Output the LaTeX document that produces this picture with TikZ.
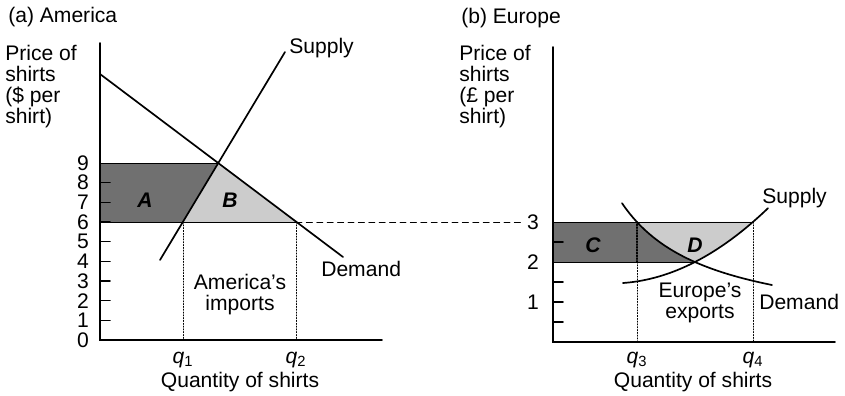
\documentclass[tikz,border=0pt]{standalone}
\usepackage{fontspec}
\setmainfont{Liberation Sans}
\usetikzlibrary{calc}

\begin{document}
\begin{tikzpicture}[x=0.25mm,y=0.25mm,line cap=round,
	declare function={eudem(\x)=62+11425/(\x-534);
		eusup(\x)=112+0.0713*(\x-623)+0.003061*(\x-623)*(\x-623);},
	axis/.style={line width=1.1pt},
	curve/.style={line width=1.2pt},
	edge/.style={line width=0.6pt},
	guide/.style={line width=0.6pt,dash pattern=on 0.8pt off 1.2pt},
	darkfill/.style={fill=black!56},
	lightfill/.style={fill=black!20},
	lbl/.style={font=\fontsize{15}{15}\selectfont,inner sep=0pt},
	area/.style={font=\fontsize{15}{15}\selectfont\bfseries\itshape,inner sep=0pt}
	]
	\useasboundingbox (0,0) rectangle (845,395);

	% (a) America
	\coordinate (oA) at (100,55);
	\coordinate (dA0) at (100,321);
	\coordinate (dA1) at (343,138);
	\coordinate (sA0) at (160,135);
	\coordinate (sA1) at (285,343);
	\coordinate (eA) at (218,232);
	\coordinate (p9) at (100,232);
	\coordinate (p6) at (100,173);
	\coordinate (q1) at (183,173);
	\coordinate (q2) at (296,173);

	\fill[darkfill] (p6) -- (p9) -- (eA) -- (q1) -- cycle;
	\fill[lightfill] (q1) -- (eA) -- (q2) -- cycle;
	\draw[edge] (p9) -- (eA);
	\draw[edge] (p6) -- (q2);

	\foreach \p in {1,...,8} {
			\draw[axis] (100,{55+19.67*\p}) -- ++(10,0);
		}
	\foreach \p in {0,...,9} {
			\node[lbl] (pa\p) at (83,{55+19.67*\p}) {\p};
		}

	\draw[guide] (q1) -- (183,55);
	\draw[guide] (q2) -- (296,55);
	\draw[edge,dash pattern=on 1.5mm off 1.1mm] (q2) -- (523,173);

	\draw[curve] (dA0) -- (dA1);
	\draw[curve] (sA0) -- (sA1);
	\draw[axis] (100,352) -- (oA) -- (382,55);

	\node[lbl,anchor=west] (titleA) at (8,378) {(a) America};
	\node[lbl,anchor=north west,align=left] (yA) at (5,350) {Price of\\shirts\\(\$ per\\shirt)};
	\node[lbl,anchor=west] (supA) at (289,347) {Supply};
	\node[lbl,anchor=west] (demA) at (321,126) {Demand};
	\node[area] (areaA) at (145,195) {A};
	\node[area] (areaB) at (230,195) {B};
	\node[lbl,align=center] (imp) at (240,100) {America's\\imports};
	\node[lbl] (lq1) at (183,35) {\textit{q}\textsubscript{1}};
	\node[lbl] (lq2) at (296,35) {\textit{q}\textsubscript{2}};
	\node[lbl] (xA) at (240,13) {Quantity of shirts};

	% (b) Europe
	\coordinate (oE) at (553,53);
	\coordinate (e3) at (553,173);
	\coordinate (e2) at (553,133);
	\coordinate (q3) at (637,173);
	\coordinate (q4) at (753,173);
	\coordinate (eE) at (695,133);

	\fill[darkfill] (e2) -- (e3) -- (q3) -- plot[domain=637:695,samples=30] (\x,{eudem(\x)}) -- cycle;
	\fill[lightfill] plot[domain=637:695,samples=30] (\x,{eudem(\x)})
	-- plot[domain=695:753,samples=30] (\x,{eusup(\x)}) -- cycle;
	\draw[edge] (e3) -- (q4);
	\draw[edge] (e2) -- (eE);

	\foreach \y in {73,93,113,153} {
			\draw[axis] (553,\y) -- ++(10,0);
		}
	\node[lbl] (pe3) at (533,173) {3};
	\node[lbl] (pe2) at (533,133) {2};
	\node[lbl] (pe1) at (533,93) {1};

	\draw[guide,line width=1.1pt] (637,133) -- (q3);
	\draw[guide] (637,133) -- (637,53);
	\draw[guide] (q4) -- (753,53);

	\draw[curve] plot[domain=622:772,samples=60] (\x,{eudem(\x)});
	\draw[curve] plot[domain=623:768,samples=60] (\x,{eusup(\x)});
	\draw[axis] (553,348) -- (oE) -- (835,53);

	\node[lbl,anchor=west] (titleE) at (461,377) {(b) Europe};
	\node[lbl,anchor=north west,align=left] (yE) at (459,350) {Price of\\shirts\\(£ per\\shirt)};
	\node[lbl,anchor=west] (supE) at (762,197) {Supply};
	\node[lbl,anchor=west] (demE) at (759,93) {Demand};
	\node[area] (areaC) at (593,150) {C};
	\node[area] (areaD) at (695,150) {D};
	\node[lbl,align=center] (exp) at (700,92) {Europe's\\exports};
	\node[lbl] (lq3) at (637,35) {\textit{q}\textsubscript{3}};
	\node[lbl] (lq4) at (753,35) {\textit{q}\textsubscript{4}};
	\node[lbl] (xE) at (693,13) {Quantity of shirts};

\end{tikzpicture}
\end{document}
